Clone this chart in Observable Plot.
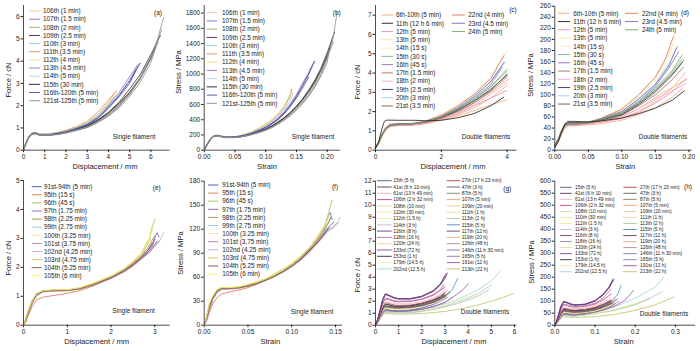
<!DOCTYPE html>
<html><head><meta charset="utf-8">
<script src="https://cdn.jsdelivr.net/npm/d3@7"></script>
<script src="https://cdn.jsdelivr.net/npm/@observablehq/plot@0.6"></script>
<style>
body{margin:0;background:#fff;}
#fig{position:relative;width:700px;height:351px;overflow:hidden;background:#fff;}
#fig svg{position:absolute;}
</style></head><body><div id="fig"></div>
<script>
const FONT = "'Liberation Sans', Arial, sans-serif";

// ---------- legends & colours ----------
const legendA = ["106th (1 min)","107th (1.5 min)","108th (2 min)","109th (2.5 min)","110th (3 min)","111th (3.5 min)","112th (4 min)","113th (4.5 min)","114th (5 min)","115th (30 min)","116th-120th (5 min)","121st-125th (5 min)"];
const colorsA = ["#f2c48d","#6f78c8","#9fa65e","#4a2040","#8ccac8","#d98a55","#ede07a","#9a6fb5","#a8d4ea","#1a1a1a","#4b4c9a","#8c8c8c"];
const legendC = ["6th-10th (5 min)","11th (12 h 6 min)","12th (5 min)","13th (5 min)","14th (15 s)","15th (30 s)","16th (45 s)","17th (1.5 min)","18th (2 min)","19th (2.5 min)","20th (3 min)","21st (3.5 min)","22nd (4 min)","23rd (4.5 min)","24th (5 min)"];
const colorsC = ["#f4a77a","#1a1a1a","#e58ab8","#f3e39a","#f6efb8","#6cb89a","#8e6ab8","#a27452","#f2a6c6","#2e2e5e","#9ccdf0","#6b5a4a","#e2704e","#6f6fc4","#78a85a"];
const legendE = ["91st-94th (5 min)","95th (15 s)","96th (45 s)","97th (1.75 min)","98th (2.25 min)","99th (2.75 min)","100th (3.25 min)","101st (3.75 min)","102nd (4.25 min)","103rd (4.75 min)","104th (5.25 min)","105th (6 min)"];
const colorsE = ["#3f4fa0","#e0704a","#a8c040","#8a5cc0","#a08c4a","#92c2e6","#efe0a0","#b07c9c","#c4a6d8","#e0bd5c","#6e4e3e","#efef5a"];
const legendG = ["15th (5 h)","41st (6 h 10 min)","61st (13 h 49 min)","106th (2 h 32 min)","108th (10 min)","110th (30 min)","112th (1.5 h)","114th (3 h)","116th (8 h)","118th (16 h)","120th (24 h)","133rd (72 h)","153rd (1 h)","179th (14.5 h)","202nd (12.5 h)",
  "27th (17 h 23 min)","47th (3 h)","87th (5 h)","107th (5 min)","109th (20 min)","111th (1 h)","113th (2 h)","115th (5 h)","117th (12 h)","119th (20 h)","126th (48 h)","146th (11 h 30 min)","165th (5 h)","191st (12 h)","213th (22 h)"];
const colorsG = ["#4a5a78","#5a2e5e","#f0b0c0","#c83c78","#e8d0a8","#f0e8a0","#f4e890","#c8b8e0","#6a3a8a","#b070b0","#e8d890","#7a4aa0","#2a2a4a","#f0f0a0","#a0d8d0",
  "#c04040","#606060","#808060","#f0a080","#e8c890","#f0d0a0","#a0d0a0","#5090c0","#604060","#e0b080","#c08090","#9070b0","#8080a0","#a050a0","#c0c060"];

// ---------- ticks ----------
const ticksAx=[0,1,2,3,4,5,6], ticksAy=[0,1,2,3,4,5,6];
const ticksBx=[0,0.05,0.1,0.15,0.2], ticksBy=[0,200,400,600,800,1000,1200,1400,1600,1800];
const ticksCx=[0,2,4], ticksCy=[0,1,2,3,4,5,6,7];
const ticksDx=[0,0.05,0.1,0.15,0.2], ticksDy=[0,20,40,60,80,100,120,140,160,180,200,220,240,260];
const ticksEx=[0,1,2,3], ticksEy=[0,1,2,3,4,5];
const ticksFx=[0,0.05,0.1,0.15], ticksFy=[0,30,60,90,120,150,180];
const ticksGx=[0,1,2,3,4,5,6], ticksGy=[0,1,2,3,4,5,6,7,8,9,10,11,12];
const ticksHx=[0,0.1,0.2,0.3], ticksHy=[0,50,100,150,200,250,300,350,400,450,500,550,600];

// ---------- curves: [legend index, [x,y, x,y, ...]] ----------
const curvesA = [
 [0,[0,0, 0.1,0.3, 0.25,0.63, 0.4,0.77, 0.55,0.8, 0.75,0.72, 1.2,0.72, 1.6,0.78, 2,0.88, 2.5,1.03, 3,1.25, 3.5,1.6, 4,2.15, 4.4,2.7]],
 [1,[0,0, 0.1,0.28, 0.25,0.6, 0.4,0.75, 0.55,0.78, 0.75,0.7, 1.2,0.7, 1.6,0.76, 2,0.84, 2.5,0.98, 3,1.16, 3.5,1.45, 4,1.95, 4.5,2.5, 5,3.15, 5.45,3.9]],
 [2,[0,0, 0.1,0.27, 0.25,0.6, 0.4,0.74, 0.55,0.77, 0.75,0.7, 1.2,0.69, 1.6,0.73, 2,0.8, 2.5,0.93, 3,1.08, 3.5,1.33, 4,1.65, 4.5,2.05, 5,2.6, 5.5,3.25, 6,4.1, 6.35,4.85]],
 [3,[0,0, 0.1,0.26, 0.25,0.58, 0.4,0.73, 0.55,0.76, 0.75,0.69, 1.2,0.68, 1.6,0.72, 2,0.8, 2.5,0.94, 3,1.1, 3.5,1.36, 4,1.7, 4.5,2.15, 5,2.75, 5.5,3.4, 6,4.3, 6.45,5.15]],
 [4,[0,0, 0.1,0.3, 0.25,0.62, 0.4,0.76, 0.55,0.79, 0.75,0.71, 1.2,0.71, 1.6,0.78, 2,0.86, 2.5,1.02, 3,1.22, 3.5,1.55, 4,2.05, 4.25,2.4]],
 [5,[0,0, 0.1,0.32, 0.25,0.64, 0.4,0.78, 0.55,0.8, 0.75,0.73, 1.2,0.73, 1.6,0.8, 2,0.9, 2.5,1.07, 3,1.3, 3.5,1.7, 4,2.25, 4.35,2.65]],
 [6,[0,0, 0.1,0.3, 0.25,0.62, 0.4,0.77, 0.55,0.79, 0.75,0.72, 1.2,0.72, 1.6,0.79, 2,0.87, 2.5,1.04, 3,1.27, 3.5,1.6, 4,2.1, 4.3,2.5]],
 [7,[0,0, 0.1,0.28, 0.25,0.6, 0.4,0.75, 0.55,0.78, 0.75,0.71, 1.2,0.71, 1.6,0.77, 2,0.85, 2.5,1.0, 3,1.2, 3.5,1.5, 4,2.0, 4.5,2.6, 5,3.3, 5.35,3.8]],
 [8,[0,0, 0.1,0.29, 0.25,0.61, 0.4,0.76, 0.55,0.78, 0.75,0.71, 1.2,0.71, 1.6,0.77, 2,0.85, 2.5,1.0, 3,1.2, 3.5,1.5, 4,1.95, 4.45,2.45]],
 [9,[0,0, 0.1,0.25, 0.25,0.57, 0.4,0.72, 0.55,0.75, 0.75,0.68, 1.2,0.68, 1.6,0.72, 2,0.8, 2.5,0.93, 3,1.08, 3.5,1.33, 4,1.68, 4.5,2.1, 5,2.6, 5.5,3.25, 6,4.15, 6.2,4.6]],
 [10,[0,0, 0.1,0.28, 0.25,0.6, 0.4,0.75, 0.55,0.78, 0.75,0.7, 1.2,0.7, 1.6,0.76, 2,0.83, 2.5,0.98, 3,1.15, 3.5,1.45, 4,1.92, 4.5,2.45, 5,3.1, 5.5,3.9]],
 [10,[0,0, 0.1,0.27, 0.25,0.59, 0.4,0.74, 0.55,0.77, 0.75,0.7, 1.2,0.7, 1.6,0.75, 2,0.82, 2.5,0.96, 3,1.13, 3.5,1.42, 4,1.88, 4.5,2.4, 5,3.0, 5.3,3.6]],
 [11,[0,0, 0.1,0.25, 0.25,0.58, 0.4,0.72, 0.55,0.75, 0.75,0.68, 1.2,0.68, 1.6,0.71, 2,0.78, 2.5,0.9, 3,1.03, 3.5,1.27, 4,1.56, 4.5,1.96, 5,2.5, 5.5,3.2, 6,4.2, 6.3,4.95, 6.6,5.95]],
 [11,[0,0, 0.1,0.26, 0.25,0.59, 0.4,0.73, 0.55,0.76, 0.75,0.69, 1.2,0.69, 1.6,0.72, 2,0.79, 2.5,0.91, 3,1.05, 3.5,1.3, 4,1.6, 4.5,2.0, 5,2.55, 5.5,3.2, 6,4.1, 6.5,5.4]],
 [11,[0,0, 0.1,0.24, 0.25,0.56, 0.4,0.71, 0.55,0.74, 0.75,0.67, 1.2,0.67, 1.6,0.7, 2,0.77, 2.5,0.88, 3,1.01, 3.5,1.24, 4,1.52, 4.5,1.9, 5,2.42, 5.5,3.05, 6,3.95, 6.3,4.85]],
 [11,[0,0, 0.1,0.26, 0.25,0.58, 0.4,0.72, 0.55,0.75, 0.75,0.68, 1.2,0.68, 1.6,0.71, 2,0.78, 2.5,0.9, 3,1.04, 3.5,1.28, 4,1.58, 4.5,2.0, 5,2.55, 5.5,3.25, 6,4.2, 6.15,4.6]]
];
const curvesB = [
 [0,[0,0, 0.004,72, 0.01,152, 0.015,186, 0.02,197, 0.025,189, 0.035,174, 0.05,177, 0.06,193, 0.07,215, 0.08,245, 0.09,285, 0.1,330, 0.11,390, 0.12,460, 0.13,560, 0.14,700, 0.143,790]],
 [1,[0,0, 0.004,66, 0.01,146, 0.015,181, 0.02,193, 0.025,186, 0.035,171, 0.05,173, 0.06,186, 0.07,205, 0.08,232, 0.09,265, 0.1,302, 0.11,350, 0.12,410, 0.13,490, 0.14,590, 0.15,710, 0.16,850, 0.17,1000, 0.178,1160]],
 [2,[0,0, 0.004,60, 0.01,140, 0.015,178, 0.02,190, 0.025,183, 0.035,168, 0.05,168, 0.06,178, 0.07,195, 0.08,218, 0.09,243, 0.1,272, 0.11,310, 0.12,360, 0.13,415, 0.14,480, 0.15,560, 0.16,650, 0.17,760, 0.18,890, 0.19,1040, 0.2,1230, 0.208,1440]],
 [3,[0,0, 0.004,62, 0.01,142, 0.015,179, 0.02,191, 0.025,184, 0.035,169, 0.05,170, 0.06,181, 0.07,198, 0.08,222, 0.09,249, 0.1,280, 0.11,320, 0.12,370, 0.13,428, 0.14,495, 0.15,580, 0.16,675, 0.17,790, 0.18,920, 0.19,1080, 0.2,1280, 0.212,1550]],
 [4,[0,0, 0.004,70, 0.01,150, 0.015,185, 0.02,196, 0.025,188, 0.035,173, 0.05,176, 0.06,191, 0.07,211, 0.08,240, 0.09,278, 0.1,322, 0.11,378, 0.12,445, 0.13,535, 0.138,700]],
 [5,[0,0, 0.004,74, 0.01,154, 0.015,188, 0.02,198, 0.025,190, 0.035,175, 0.05,179, 0.06,196, 0.07,220, 0.08,252, 0.09,293, 0.1,340, 0.11,400, 0.12,475, 0.13,575, 0.14,720, 0.142,800]],
 [6,[0,0, 0.004,71, 0.01,151, 0.015,186, 0.02,197, 0.025,189, 0.035,174, 0.05,178, 0.06,194, 0.07,216, 0.08,248, 0.09,288, 0.1,335, 0.11,395, 0.12,468, 0.13,565, 0.14,740]],
 [7,[0,0, 0.004,67, 0.01,147, 0.015,182, 0.02,194, 0.025,187, 0.035,172, 0.05,174, 0.06,188, 0.07,207, 0.08,235, 0.09,268, 0.1,305, 0.11,358, 0.12,420, 0.13,505, 0.14,610, 0.15,730, 0.16,880, 0.17,1020, 0.175,1110]],
 [8,[0,0, 0.004,69, 0.01,149, 0.015,184, 0.02,195, 0.025,188, 0.035,173, 0.05,175, 0.06,190, 0.07,210, 0.08,238, 0.09,274, 0.1,315, 0.11,372, 0.12,440, 0.13,530, 0.14,650, 0.145,760]],
 [9,[0,0, 0.004,61, 0.01,141, 0.015,178, 0.02,190, 0.025,183, 0.035,168, 0.05,169, 0.06,179, 0.07,196, 0.08,219, 0.09,245, 0.1,275, 0.11,315, 0.12,365, 0.13,425, 0.14,490, 0.15,570, 0.16,665, 0.17,775, 0.18,900, 0.19,1050, 0.2,1240, 0.205,1350]],
 [10,[0,0, 0.004,65, 0.01,145, 0.015,181, 0.02,193, 0.025,186, 0.035,171, 0.05,173, 0.06,186, 0.07,204, 0.08,230, 0.09,263, 0.1,300, 0.11,348, 0.12,408, 0.13,488, 0.14,585, 0.15,705, 0.16,850, 0.17,1000, 0.18,1170]],
 [10,[0,0, 0.004,64, 0.01,144, 0.015,180, 0.02,192, 0.025,185, 0.035,170, 0.05,172, 0.06,185, 0.07,203, 0.08,228, 0.09,260, 0.1,297, 0.11,343, 0.12,400, 0.13,475, 0.14,570, 0.15,685, 0.16,815, 0.17,960]],
 [11,[0,0, 0.004,58, 0.01,138, 0.015,176, 0.02,188, 0.025,181, 0.035,166, 0.05,166, 0.06,175, 0.07,190, 0.08,211, 0.09,235, 0.1,262, 0.11,298, 0.12,345, 0.13,398, 0.14,460, 0.15,535, 0.16,620, 0.17,720, 0.18,840, 0.19,990, 0.2,1200, 0.21,1480, 0.216,1810]],
 [11,[0,0, 0.004,59, 0.01,139, 0.015,177, 0.02,189, 0.025,182, 0.035,167, 0.05,167, 0.06,177, 0.07,193, 0.08,215, 0.09,240, 0.1,268, 0.11,305, 0.12,352, 0.13,406, 0.14,470, 0.15,548, 0.16,638, 0.17,745, 0.18,870, 0.19,1030, 0.2,1220, 0.21,1420]],
 [11,[0,0, 0.004,57, 0.01,137, 0.015,175, 0.02,187, 0.025,180, 0.035,165, 0.05,165, 0.06,174, 0.07,189, 0.08,210, 0.09,233, 0.1,260, 0.11,295, 0.12,340, 0.13,392, 0.14,452, 0.15,525, 0.16,610, 0.17,710, 0.18,830, 0.19,975, 0.2,1150, 0.203,1300]]
];
const curvesC = [
 [0,[0,0.12, 0.1,0.4, 0.2,0.8, 0.3,1.1, 0.4,1.28, 0.6,1.33, 1,1.33, 1.4,1.38, 1.7,1.48, 2,1.6, 2.5,1.85, 3,2.2, 3.5,2.7, 4,3.35]],
 [0,[0,0.1, 0.1,0.35, 0.2,0.72, 0.3,1.0, 0.45,1.22, 0.6,1.27, 1,1.28, 1.4,1.33, 1.7,1.42, 2,1.55, 2.5,1.78, 3,2.05, 3.5,2.35, 4,2.62]],
 [0,[0,0.15, 0.1,0.42, 0.2,0.82, 0.3,1.12, 0.4,1.3, 0.6,1.36, 1,1.36, 1.4,1.4, 1.7,1.5, 2,1.65, 2.5,2.0, 3,2.45, 3.5,3.0, 4.05,3.7]],
 [2,[0,0.1, 0.1,0.38, 0.2,0.78, 0.3,1.05, 0.45,1.25, 0.7,1.28, 1.1,1.3, 1.5,1.4, 2,1.6, 2.5,1.9, 3,2.3, 3.5,2.7, 4,3.1]],
 [3,[0,0.2, 0.1,0.45, 0.2,0.85, 0.3,1.15, 0.4,1.32, 0.7,1.38, 1.1,1.4, 1.5,1.5, 2,1.85, 2.5,2.3, 3,2.9, 3.5,3.8, 4,5.15]],
 [4,[0,0.15, 0.1,0.4, 0.2,0.8, 0.3,1.1, 0.45,1.3, 0.7,1.36, 1.1,1.38, 1.5,1.48, 2,1.8, 2.5,2.25, 3,2.8, 3.5,3.5, 3.95,4.6]],
 [5,[0,0.1, 0.1,0.38, 0.2,0.78, 0.3,1.08, 0.45,1.28, 0.7,1.32, 1.1,1.35, 1.5,1.45, 2,1.7, 2.5,2.1, 3,2.6, 3.5,3.25, 4,4.1]],
 [6,[0,0.12, 0.1,0.4, 0.2,0.8, 0.3,1.1, 0.45,1.3, 0.7,1.35, 1.1,1.37, 1.5,1.47, 2,1.75, 2.5,2.15, 3,2.7, 3.5,3.4, 3.85,4.3]],
 [7,[0,0.1, 0.1,0.36, 0.2,0.75, 0.3,1.05, 0.45,1.26, 0.7,1.3, 1.1,1.32, 1.5,1.42, 2,1.65, 2.5,2.0, 3,2.45, 3.5,3.05, 4,3.8]],
 [8,[0,0.12, 0.1,0.38, 0.2,0.76, 0.3,1.04, 0.45,1.24, 0.7,1.28, 1.1,1.3, 1.5,1.4, 2,1.6, 2.5,1.95, 3,2.35, 3.5,2.9, 4,3.5]],
 [9,[0,0.15, 0.1,0.42, 0.2,0.82, 0.3,1.1, 0.45,1.3, 0.7,1.34, 1.1,1.36, 1.5,1.45, 2,1.7, 2.5,2.05, 3,2.55, 3.5,3.15, 4,3.9]],
 [10,[0,0.1, 0.1,0.4, 0.2,0.8, 0.3,1.1, 0.45,1.3, 0.7,1.35, 1.1,1.37, 1.5,1.47, 2,1.75, 2.5,2.2, 3,2.75, 3.5,3.55, 3.95,4.6]],
 [11,[0,0.12, 0.1,0.42, 0.2,0.84, 0.3,1.14, 0.45,1.34, 0.7,1.38, 1.1,1.38, 1.5,1.46, 2,1.7, 2.5,2.1, 3,2.55, 3.5,3.1, 4,3.95]],
 [12,[0,0.1, 0.1,0.38, 0.2,0.8, 0.3,1.1, 0.45,1.3, 0.7,1.34, 1.1,1.37, 1.5,1.5, 2,1.8, 2.5,2.3, 3,2.9, 3.5,3.7, 3.9,4.9]],
 [13,[0,0.12, 0.1,0.4, 0.2,0.8, 0.3,1.1, 0.45,1.3, 0.7,1.34, 1.1,1.36, 1.5,1.47, 2,1.75, 2.5,2.2, 3,2.8, 3.5,3.55, 3.9,4.55]],
 [14,[0,0.1, 0.1,0.38, 0.2,0.78, 0.3,1.08, 0.45,1.28, 0.7,1.32, 1.1,1.35, 1.5,1.45, 2,1.72, 2.5,2.15, 3,2.65, 3.5,3.3, 4,4.2]],
 [1,[0,0.1, 0.1,0.45, 0.2,1.15, 0.27,1.5, 0.35,1.56, 0.7,1.55, 1.2,1.55, 1.6,1.52, 2,1.55, 2.5,1.68, 3,1.9, 3.5,2.3, 3.9,2.75]]
];
const curvesD = [
 [0,[0,6, 0.005,16, 0.01,30, 0.015,42, 0.02,46, 0.03,46, 0.05,48, 0.07,51, 0.1,58, 0.125,70, 0.15,88, 0.175,112, 0.195,140]],
 [0,[0,5, 0.005,14, 0.01,28, 0.015,40, 0.02,44, 0.03,44, 0.05,46, 0.07,48, 0.1,54, 0.125,64, 0.15,76, 0.175,95, 0.19,112]],
 [0,[0,8, 0.005,18, 0.01,32, 0.015,44, 0.02,47, 0.03,47, 0.05,49, 0.07,53, 0.1,61, 0.125,75, 0.15,95, 0.175,113, 0.197,128]],
 [2,[0,6, 0.005,17, 0.01,31, 0.015,43, 0.02,46, 0.03,46, 0.05,48, 0.07,51, 0.1,57, 0.125,68, 0.15,85, 0.175,105, 0.196,130]],
 [3,[0,10, 0.005,20, 0.01,35, 0.015,46, 0.02,49, 0.03,49, 0.05,51, 0.07,58, 0.1,75, 0.125,98, 0.15,130, 0.165,160, 0.178,195]],
 [4,[0,8, 0.005,18, 0.01,33, 0.015,45, 0.02,48, 0.03,48, 0.05,50, 0.07,57, 0.1,72, 0.125,95, 0.15,125, 0.17,158, 0.183,190]],
 [5,[0,7, 0.005,17, 0.01,32, 0.015,44, 0.02,47, 0.03,47, 0.05,49, 0.07,55, 0.1,66, 0.125,85, 0.15,110, 0.175,140, 0.19,165]],
 [6,[0,8, 0.005,18, 0.01,33, 0.015,45, 0.02,48, 0.03,48, 0.05,50, 0.07,56, 0.1,68, 0.125,88, 0.15,115, 0.17,148, 0.185,178]],
 [7,[0,7, 0.005,17, 0.01,31, 0.015,43, 0.02,46, 0.03,46, 0.05,48, 0.07,53, 0.1,63, 0.125,80, 0.15,100, 0.175,127, 0.192,150]],
 [8,[0,6, 0.005,16, 0.01,30, 0.015,42, 0.02,45, 0.03,45, 0.05,47, 0.07,52, 0.1,60, 0.125,75, 0.15,92, 0.175,107, 0.195,120]],
 [9,[0,9, 0.005,19, 0.01,34, 0.015,46, 0.02,49, 0.03,49, 0.05,50, 0.07,55, 0.1,64, 0.125,82, 0.15,105, 0.175,135, 0.19,158]],
 [10,[0,8, 0.005,18, 0.01,33, 0.015,45, 0.02,48, 0.03,48, 0.05,50, 0.07,57, 0.1,70, 0.125,93, 0.15,120, 0.17,155, 0.183,187]],
 [11,[0,10, 0.005,20, 0.01,36, 0.015,47, 0.02,50, 0.03,50, 0.05,51, 0.07,56, 0.1,65, 0.125,84, 0.15,108, 0.175,137, 0.192,162]],
 [12,[0,7, 0.005,17, 0.01,32, 0.015,44, 0.02,47, 0.03,47, 0.05,50, 0.07,58, 0.1,74, 0.125,100, 0.15,132, 0.165,165, 0.177,205]],
 [13,[0,8, 0.005,18, 0.01,33, 0.015,45, 0.02,48, 0.03,48, 0.05,50, 0.07,57, 0.1,70, 0.125,92, 0.15,118, 0.17,152, 0.182,185]],
 [14,[0,7, 0.005,17, 0.01,32, 0.015,44, 0.02,47, 0.03,47, 0.05,49, 0.07,56, 0.1,67, 0.125,87, 0.15,112, 0.175,143, 0.19,172]],
 [1,[0,5, 0.005,15, 0.01,32, 0.015,47, 0.019,52, 0.03,52, 0.05,51, 0.07,53, 0.1,58, 0.125,66, 0.15,76, 0.175,90, 0.193,107]]
];
const curvesE = [
 [0,[0,0, 0.05,0.15, 0.1,0.4, 0.2,0.8, 0.3,1.05, 0.45,1.17, 0.7,1.2, 1,1.2, 1.3,1.28, 1.6,1.42, 2,1.66, 2.3,1.9, 2.5,2.12, 2.7,2.35, 2.85,2.6, 2.95,2.75, 3.0,3.0]],
 [0,[0,0, 0.05,0.2, 0.1,0.45, 0.2,0.85, 0.3,1.08, 0.45,1.18, 0.7,1.2, 1,1.21, 1.3,1.27, 1.6,1.4, 2,1.62, 2.3,1.85, 2.5,2.05, 2.7,2.3, 2.9,2.55, 3.05,2.9]],
 [1,[0,0, 0.05,0.1, 0.1,0.3, 0.2,0.65, 0.3,0.88, 0.45,0.97, 0.7,1.03, 1,1.1, 1.3,1.2, 1.6,1.36, 2,1.62, 2.3,1.85, 2.5,2.05, 2.7,2.3, 2.9,2.62, 3.0,2.95]],
 [2,[0,0, 0.05,0.2, 0.1,0.45, 0.2,0.85, 0.3,1.1, 0.45,1.2, 0.7,1.22, 1,1.22, 1.3,1.3, 1.6,1.45, 2,1.7, 2.3,1.95, 2.5,2.2, 2.7,2.5, 2.8,2.8, 2.88,3.0, 2.93,3.35, 3.0,3.65]],
 [3,[0,0, 0.05,0.18, 0.1,0.42, 0.2,0.82, 0.3,1.06, 0.45,1.17, 0.7,1.19, 1,1.2, 1.3,1.27, 1.6,1.41, 2,1.65, 2.3,1.9, 2.5,2.1, 2.7,2.38, 2.85,2.62, 2.95,2.85, 3.05,3.2, 3.1,3.05]],
 [4,[0,0, 0.05,0.2, 0.1,0.45, 0.2,0.84, 0.3,1.08, 0.45,1.18, 0.7,1.21, 1,1.21, 1.3,1.28, 1.6,1.43, 2,1.68, 2.3,1.92, 2.5,2.15, 2.7,2.42, 2.85,2.7, 3.0,3.1]],
 [5,[0,0, 0.05,0.15, 0.1,0.38, 0.2,0.78, 0.3,1.04, 0.45,1.16, 0.7,1.19, 1,1.19, 1.3,1.26, 1.6,1.4, 2,1.64, 2.3,1.88, 2.5,2.1, 2.7,2.35, 2.9,2.7, 3.0,2.95]],
 [6,[0,0, 0.05,0.2, 0.1,0.44, 0.2,0.84, 0.3,1.08, 0.45,1.18, 0.7,1.21, 1,1.22, 1.3,1.29, 1.6,1.44, 2,1.69, 2.3,1.95, 2.5,2.18, 2.7,2.48, 2.85,2.85, 2.95,3.3]],
 [7,[0,0, 0.05,0.14, 0.1,0.36, 0.2,0.76, 0.3,1.02, 0.45,1.15, 0.7,1.18, 1,1.19, 1.3,1.25, 1.6,1.39, 2,1.62, 2.3,1.86, 2.5,2.08, 2.7,2.32, 2.9,2.6, 3.05,2.8, 3.1,2.92]],
 [8,[0,0, 0.05,0.16, 0.1,0.4, 0.2,0.8, 0.3,1.05, 0.45,1.16, 0.7,1.19, 1,1.2, 1.3,1.26, 1.6,1.4, 2,1.63, 2.3,1.87, 2.5,2.1, 2.7,2.35, 2.9,2.65, 3.05,2.85, 3.12,2.92, 3.2,3.2]],
 [9,[0,0, 0.05,0.19, 0.1,0.43, 0.2,0.83, 0.3,1.07, 0.45,1.18, 0.7,1.21, 1,1.21, 1.3,1.28, 1.6,1.43, 2,1.67, 2.3,1.92, 2.5,2.15, 2.7,2.42, 2.9,3.0]],
 [10,[0,0, 0.05,0.17, 0.1,0.41, 0.2,0.81, 0.3,1.06, 0.45,1.17, 0.7,1.2, 1,1.2, 1.3,1.27, 1.6,1.41, 2,1.64, 2.3,1.88, 2.5,2.1, 2.7,2.35, 2.85,2.6, 2.95,2.85]],
 [11,[0,0, 0.05,0.2, 0.1,0.45, 0.2,0.85, 0.3,1.09, 0.45,1.19, 0.7,1.22, 1,1.22, 1.3,1.3, 1.6,1.45, 2,1.7, 2.3,1.96, 2.5,2.2, 2.7,2.5, 2.85,2.9, 2.95,3.35]]
];
const curvesF = [
 [0,[0,0, 0.003,10, 0.006,24, 0.01,35, 0.015,43, 0.02,46, 0.03,46, 0.04,47, 0.05,50, 0.06,53, 0.07,57, 0.08,62, 0.09,68, 0.1,75, 0.11,84, 0.12,95, 0.13,108, 0.138,120, 0.145,135]],
 [0,[0,0, 0.003,12, 0.006,26, 0.01,36, 0.015,44, 0.02,46, 0.03,46, 0.04,47, 0.05,49, 0.06,52, 0.07,56, 0.08,61, 0.09,67, 0.1,74, 0.11,82, 0.12,92, 0.13,105, 0.14,120, 0.148,129]],
 [1,[0,0, 0.003,6, 0.006,16, 0.01,27, 0.015,35, 0.02,39, 0.03,42, 0.04,44, 0.05,47, 0.06,51, 0.07,56, 0.08,61, 0.09,67, 0.1,74, 0.11,83, 0.12,93, 0.13,105, 0.14,118]],
 [2,[0,0, 0.003,11, 0.006,25, 0.01,36, 0.015,44, 0.02,47, 0.03,47, 0.04,48, 0.05,51, 0.06,54, 0.07,58, 0.08,64, 0.09,70, 0.1,77, 0.11,86, 0.12,97, 0.13,112, 0.138,125, 0.142,140, 0.146,156]],
 [3,[0,0, 0.003,9, 0.006,22, 0.01,34, 0.015,43, 0.02,46, 0.03,46, 0.04,47, 0.05,50, 0.06,53, 0.07,57, 0.08,62, 0.09,68, 0.1,75, 0.11,84, 0.12,95, 0.13,108, 0.137,122, 0.141,133, 0.144,141, 0.146,132]],
 [4,[0,0, 0.003,10, 0.006,24, 0.01,35, 0.015,44, 0.02,46, 0.03,46, 0.04,47, 0.05,50, 0.06,53, 0.07,57, 0.08,62, 0.09,68, 0.1,75, 0.11,84, 0.12,94, 0.13,106, 0.14,125, 0.143,130]],
 [5,[0,0, 0.003,8, 0.006,20, 0.01,33, 0.015,42, 0.02,45, 0.03,46, 0.04,47, 0.05,49, 0.06,52, 0.07,56, 0.08,61, 0.09,67, 0.1,74, 0.11,82, 0.12,92, 0.13,104, 0.14,118, 0.145,126]],
 [6,[0,0, 0.003,12, 0.006,26, 0.01,37, 0.015,45, 0.02,47, 0.03,47, 0.04,48, 0.05,51, 0.06,54, 0.07,58, 0.08,63, 0.09,69, 0.1,77, 0.11,86, 0.12,97, 0.13,110, 0.138,125, 0.143,138]],
 [7,[0,0, 0.003,7, 0.006,19, 0.01,32, 0.015,41, 0.02,45, 0.03,45, 0.04,46, 0.05,49, 0.06,52, 0.07,56, 0.08,61, 0.09,66, 0.1,73, 0.11,81, 0.12,91, 0.13,103, 0.14,116, 0.148,124, 0.152,128]],
 [8,[0,0, 0.003,9, 0.006,22, 0.01,34, 0.015,43, 0.02,46, 0.03,46, 0.04,47, 0.05,49, 0.06,52, 0.07,56, 0.08,61, 0.09,67, 0.1,74, 0.11,82, 0.12,92, 0.13,104, 0.14,117, 0.148,122, 0.152,126, 0.155,135]],
 [9,[0,0, 0.003,11, 0.006,25, 0.01,36, 0.015,44, 0.02,46, 0.03,46, 0.04,47, 0.05,50, 0.06,53, 0.07,57, 0.08,62, 0.09,68, 0.1,75, 0.11,84, 0.12,95, 0.13,107, 0.14,125, 0.142,128]],
 [10,[0,0, 0.003,10, 0.006,23, 0.01,35, 0.015,43, 0.02,46, 0.03,46, 0.04,47, 0.05,49, 0.06,52, 0.07,56, 0.08,61, 0.09,67, 0.1,74, 0.11,82, 0.12,93, 0.13,104, 0.14,118, 0.143,122]],
 [11,[0,0, 0.003,12, 0.006,27, 0.01,37, 0.015,45, 0.02,47, 0.03,47, 0.04,48, 0.05,51, 0.06,54, 0.07,58, 0.08,63, 0.09,70, 0.1,77, 0.11,86, 0.12,97, 0.13,110, 0.14,130, 0.143,137]]
];
const curvesG = [
 [29,[0,0, 0.1,0.2, 0.2,0.52, 0.3,0.82, 0.42,0.98, 0.55,0.97, 0.8,0.93, 1,0.92, 1.5,0.93, 2,0.98, 2.5,1.05, 3,1.15, 3.5,1.3, 4,1.5, 4.5,1.72, 5,2.0, 5.5,2.3, 5.95,2.65]],
 [14,[0,0, 0.1,0.26, 0.2,0.65, 0.3,1.02, 0.42,1.25, 0.55,1.23, 0.8,1.17, 1,1.15, 1.5,1.2, 2,1.33, 2.5,1.52, 3,1.78, 3.5,2.12, 4,2.55, 4.5,3.05, 5,3.7, 5.4,4.5]],
 [7,[0,0, 0.1,0.24, 0.2,0.6, 0.3,0.95, 0.42,1.13, 0.55,1.12, 0.8,1.07, 1,1.05, 1.5,1.08, 2,1.2, 2.5,1.38, 3,1.6, 3.5,1.9, 4,2.25, 4.5,2.7, 5.0,3.35]],
 [21,[0,0, 0.1,0.22, 0.2,0.58, 0.3,0.9, 0.42,1.08, 0.55,1.07, 0.8,1.02, 1,1.0, 1.5,1.03, 2,1.14, 2.5,1.3, 3,1.52, 3.5,1.78, 4,2.1, 4.5,2.5, 4.9,2.95]],
 [13,[0,0, 0.1,0.25, 0.2,0.62, 0.3,0.98, 0.42,1.18, 0.55,1.17, 0.8,1.12, 1,1.1, 1.5,1.14, 2,1.26, 2.5,1.45, 3,1.7, 3.5,2.0, 4,2.35, 4.4,2.7]],
 [28,[0,0, 0.1,0.26, 0.2,0.65, 0.3,1.02, 0.42,1.25, 0.55,1.23, 0.8,1.17, 1,1.15, 1.5,1.2, 2,1.33, 2.5,1.55, 3,1.9, 3.5,2.55, 3.8,3.0, 4.0,3.45]],
 [22,[0,0, 0.1,0.28, 0.2,0.7, 0.3,1.08, 0.42,1.3, 0.55,1.28, 0.8,1.22, 1,1.2, 1.5,1.27, 2,1.45, 2.5,1.75, 3,2.3, 3.3,2.9, 3.55,3.9]],
 [26,[0,0, 0.1,0.26, 0.2,0.66, 0.3,1.0, 0.42,1.2, 0.55,1.19, 0.8,1.14, 1,1.13, 1.5,1.18, 2,1.32, 2.5,1.55, 3,1.9, 3.3,2.3]],
 [27,[0,0, 0.1,0.28, 0.2,0.7, 0.3,1.08, 0.42,1.3, 0.55,1.28, 0.8,1.22, 1,1.2, 1.5,1.26, 2,1.42, 2.5,1.7, 2.8,1.98, 3.1,2.3]],
 [4,[0,0, 0.1,0.3, 0.2,0.78, 0.3,1.2, 0.42,1.45, 0.55,1.44, 0.8,1.37, 1,1.36, 1.5,1.42, 2,1.6, 2.5,1.9, 2.8,2.15, 3.05,2.4]],
 [5,[0,0, 0.1,0.3, 0.2,0.75, 0.3,1.15, 0.42,1.4, 0.55,1.39, 0.8,1.33, 1,1.32, 1.5,1.38, 2,1.55, 2.5,1.82, 2.8,2.05, 3.0,2.3]],
 [6,[0,0, 0.1,0.32, 0.2,0.8, 0.3,1.25, 0.42,1.5, 0.55,1.49, 0.8,1.42, 1,1.41, 1.5,1.47, 2,1.65, 2.5,1.95, 2.8,2.25, 3.1,2.6]],
 [10,[0,0, 0.1,0.3, 0.2,0.78, 0.3,1.2, 0.42,1.45, 0.55,1.44, 0.8,1.38, 1,1.37, 1.5,1.43, 2,1.6, 2.5,1.9, 2.8,2.2, 3.0,2.5]],
 [18,[0,0, 0.1,0.34, 0.2,0.84, 0.3,1.3, 0.42,1.55, 0.55,1.53, 0.8,1.45, 1,1.44, 1.5,1.49, 2,1.66, 2.5,1.95, 2.8,2.25, 3.0,2.55]],
 [19,[0,0, 0.1,0.32, 0.2,0.8, 0.3,1.25, 0.42,1.5, 0.55,1.48, 0.8,1.41, 1,1.4, 1.5,1.45, 2,1.62, 2.5,1.9, 2.8,2.18, 3.05,2.45]],
 [20,[0,0, 0.1,0.3, 0.2,0.76, 0.3,1.2, 0.42,1.45, 0.55,1.43, 0.8,1.36, 1,1.35, 1.5,1.4, 2,1.57, 2.5,1.85, 2.8,2.12, 2.95,2.4]],
 [24,[0,0, 0.1,0.32, 0.2,0.8, 0.3,1.25, 0.42,1.5, 0.55,1.49, 0.8,1.42, 1,1.41, 1.5,1.46, 2,1.63, 2.5,1.92, 2.8,2.2, 3.0,2.5]],
 [25,[0,0, 0.1,0.36, 0.2,0.86, 0.3,1.35, 0.42,1.6, 0.55,1.58, 0.8,1.5, 1,1.48, 1.5,1.53, 2,1.7, 2.5,2.0, 2.8,2.35, 3.1,2.9]],
 [23,[0,0, 0.1,0.34, 0.2,0.84, 0.3,1.3, 0.42,1.55, 0.55,1.53, 0.8,1.45, 1,1.44, 1.5,1.48, 2,1.63, 2.5,1.9, 2.8,2.2, 3.0,2.45, 3.2,2.8]],
 [17,[0,0, 0.1,0.32, 0.2,0.82, 0.3,1.28, 0.42,1.55, 0.55,1.54, 0.8,1.46, 1,1.45, 1.5,1.5, 2,1.65, 2.5,1.92, 2.8,2.15, 3.05,2.4]],
 [16,[0,0, 0.1,0.35, 0.2,0.85, 0.3,1.32, 0.42,1.6, 0.55,1.58, 0.8,1.5, 1,1.48, 1.5,1.52, 2,1.68, 2.5,1.95, 2.8,2.2, 3.0,2.45]],
 [0,[0,0, 0.1,0.35, 0.2,0.9, 0.3,1.4, 0.42,1.7, 0.55,1.68, 0.8,1.58, 1,1.55, 1.5,1.6, 2,1.78, 2.5,2.05, 2.8,2.3, 3.0,2.55]],
 [12,[0,0, 0.1,0.38, 0.2,0.92, 0.3,1.45, 0.42,1.75, 0.55,1.72, 0.8,1.6, 1,1.58, 1.5,1.62, 2,1.8, 2.5,2.1, 2.8,2.35, 2.95,2.6]],
 [15,[0,0, 0.1,0.4, 0.2,0.95, 0.3,1.5, 0.42,1.85, 0.55,1.82, 0.8,1.68, 1,1.65, 1.5,1.68, 2,1.85, 2.5,2.15, 2.8,2.45, 3.0,2.75]],
 [2,[0,0, 0.1,0.4, 0.2,1.0, 0.3,1.6, 0.42,1.95, 0.55,1.92, 0.8,1.8, 1,1.78, 1.5,1.8, 2,1.95, 2.5,2.25, 2.8,2.6, 3.0,2.95]],
 [3,[0,0, 0.1,0.45, 0.2,1.1, 0.3,1.75, 0.42,2.2, 0.55,2.15, 0.8,1.98, 1,1.95, 1.5,1.98, 2,2.15, 2.5,2.5, 2.8,2.9, 3.0,3.2]],
 [9,[0,0, 0.1,0.45, 0.2,1.1, 0.3,1.8, 0.42,2.25, 0.55,2.22, 0.8,2.05, 1,2.0, 1.5,2.02, 2,2.2, 2.5,2.55, 2.8,2.95, 2.95,3.4]],
 [11,[0,0, 0.1,0.5, 0.2,1.25, 0.3,2.05, 0.42,2.58, 0.55,2.5, 0.8,2.28, 1,2.2, 1.5,2.2, 2,2.4, 2.5,2.85, 2.8,3.4, 3.0,4.1]],
 [1,[0,0, 0.1,0.5, 0.2,1.2, 0.3,2.0, 0.42,2.55, 0.55,2.48, 0.8,2.25, 1,2.18, 1.5,2.18, 2,2.38, 2.5,2.82, 2.8,3.35, 3.0,3.9, 3.1,4.35]],
 [8,[0,0, 0.1,0.55, 0.2,1.3, 0.3,2.1, 0.42,2.62, 0.55,2.55, 0.8,2.3, 1,2.22, 1.5,2.22, 2,2.42, 2.5,2.9, 2.8,3.45, 3.05,4.3]]
];
const curvesH = [
 [29,[0,0, 0.005,7, 0.01,17, 0.015,28, 0.022,36, 0.03,35, 0.04,33, 0.05,33, 0.075,34, 0.1,36, 0.15,45, 0.2,62, 0.25,85, 0.296,117]],
 [14,[0,0, 0.005,9, 0.01,22, 0.015,36, 0.022,45, 0.03,44, 0.04,42, 0.05,42, 0.075,47, 0.1,55, 0.15,78, 0.2,112, 0.25,160, 0.271,200]],
 [7,[0,0, 0.005,8, 0.01,20, 0.015,33, 0.022,42, 0.03,41, 0.04,40, 0.05,40, 0.075,44, 0.1,50, 0.15,65, 0.2,88, 0.24,115, 0.267,140]],
 [21,[0,0, 0.005,8, 0.01,19, 0.015,32, 0.022,40, 0.03,39, 0.04,38, 0.05,38, 0.075,42, 0.1,47, 0.15,62, 0.2,85, 0.235,110]],
 [13,[0,0, 0.005,8, 0.01,20, 0.015,33, 0.022,42, 0.03,41, 0.04,40, 0.05,40, 0.075,44, 0.1,50, 0.15,66, 0.2,90, 0.22,102]],
 [28,[0,0, 0.005,9, 0.01,22, 0.015,36, 0.022,45, 0.03,44, 0.04,43, 0.05,42, 0.075,47, 0.1,55, 0.125,65, 0.15,80, 0.175,105, 0.196,145]],
 [22,[0,0, 0.005,10, 0.01,23, 0.015,38, 0.022,48, 0.03,47, 0.04,45, 0.05,45, 0.075,50, 0.1,62, 0.12,76, 0.14,98, 0.155,125, 0.165,165]],
 [26,[0,0, 0.005,9, 0.01,22, 0.015,37, 0.022,46, 0.03,45, 0.04,43, 0.05,43, 0.075,47, 0.1,55, 0.125,67, 0.145,85, 0.16,100]],
 [27,[0,0, 0.005,10, 0.01,24, 0.015,39, 0.022,50, 0.03,49, 0.04,47, 0.05,46, 0.075,49, 0.1,56, 0.12,65, 0.14,78, 0.15,88]],
 [4,[0,0, 0.005,11, 0.01,27, 0.015,44, 0.022,56, 0.03,55, 0.04,53, 0.05,52, 0.075,55, 0.1,62, 0.12,73, 0.145,92]],
 [5,[0,0, 0.005,11, 0.01,26, 0.015,42, 0.022,54, 0.03,53, 0.04,51, 0.05,50, 0.075,53, 0.1,59, 0.12,69, 0.14,85]],
 [6,[0,0, 0.005,12, 0.01,28, 0.015,46, 0.022,58, 0.03,57, 0.04,54, 0.05,53, 0.075,56, 0.1,64, 0.12,76, 0.148,98]],
 [10,[0,0, 0.005,11, 0.01,27, 0.015,44, 0.022,56, 0.03,55, 0.04,53, 0.05,52, 0.075,55, 0.1,62, 0.12,73, 0.142,93]],
 [18,[0,0, 0.005,12, 0.01,29, 0.015,47, 0.022,60, 0.03,58, 0.04,56, 0.05,55, 0.075,58, 0.1,65, 0.12,77, 0.14,97]],
 [19,[0,0, 0.005,11, 0.01,28, 0.015,45, 0.022,57, 0.03,56, 0.04,53, 0.05,52, 0.075,55, 0.1,62, 0.12,72, 0.145,90]],
 [20,[0,0, 0.005,11, 0.01,27, 0.015,43, 0.022,55, 0.03,54, 0.04,52, 0.05,51, 0.075,54, 0.1,60, 0.12,70, 0.14,88]],
 [24,[0,0, 0.005,12, 0.01,28, 0.015,46, 0.022,58, 0.03,57, 0.04,54, 0.05,53, 0.075,56, 0.1,63, 0.12,75, 0.143,95]],
 [25,[0,0, 0.005,12, 0.01,30, 0.015,49, 0.022,62, 0.03,60, 0.04,57, 0.05,56, 0.075,59, 0.1,67, 0.12,79, 0.14,95, 0.15,112]],
 [23,[0,0, 0.005,12, 0.01,29, 0.015,47, 0.022,60, 0.03,58, 0.04,55, 0.05,54, 0.075,57, 0.1,64, 0.12,75, 0.14,90, 0.155,108]],
 [17,[0,0, 0.005,12, 0.01,29, 0.015,47, 0.022,60, 0.03,58, 0.04,56, 0.05,55, 0.075,57, 0.1,64, 0.12,75, 0.145,92]],
 [16,[0,0, 0.005,12, 0.01,30, 0.015,49, 0.022,62, 0.03,60, 0.04,57, 0.05,56, 0.075,58, 0.1,66, 0.12,77, 0.14,92]],
 [0,[0,0, 0.005,13, 0.01,32, 0.015,52, 0.022,66, 0.03,64, 0.04,61, 0.05,60, 0.075,62, 0.1,70, 0.12,82, 0.14,98]],
 [12,[0,0, 0.005,13, 0.01,33, 0.015,54, 0.022,68, 0.03,66, 0.04,62, 0.05,61, 0.075,64, 0.1,72, 0.12,85, 0.14,102]],
 [15,[0,0, 0.005,14, 0.01,34, 0.015,55, 0.022,70, 0.03,68, 0.04,64, 0.05,63, 0.075,66, 0.1,75, 0.12,88, 0.14,105]],
 [2,[0,0, 0.005,15, 0.01,36, 0.015,58, 0.022,75, 0.03,72, 0.04,69, 0.05,68, 0.075,71, 0.1,80, 0.12,95, 0.14,115]],
 [3,[0,0, 0.005,16, 0.01,40, 0.015,65, 0.022,85, 0.03,82, 0.04,77, 0.05,75, 0.075,78, 0.1,88, 0.12,105, 0.14,130]],
 [9,[0,0, 0.005,17, 0.01,42, 0.015,68, 0.022,88, 0.03,85, 0.04,80, 0.05,78, 0.075,81, 0.1,92, 0.12,112, 0.14,150]],
 [11,[0,0, 0.005,19, 0.01,47, 0.015,77, 0.022,98, 0.03,94, 0.04,87, 0.05,84, 0.075,87, 0.1,101, 0.12,127, 0.135,157, 0.143,185]],
 [1,[0,0, 0.005,18, 0.01,45, 0.015,75, 0.022,97, 0.03,93, 0.04,86, 0.05,83, 0.075,86, 0.1,100, 0.12,125, 0.135,155, 0.147,190]],
 [8,[0,0, 0.005,20, 0.01,50, 0.015,80, 0.022,100, 0.03,96, 0.04,89, 0.05,85, 0.075,88, 0.1,103, 0.12,130, 0.135,160, 0.145,193]]
];

// ---------- panel layout ----------
const f2 = d3.format(".2f"), f1 = d3.format(".1f"), fi = d3.format("d");
const panels = [
 {off:[0,0], m:[5,5.5,25.3,23], xd:[0,6.9], yd:[0,6.5], xt:ticksAx, yt:ticksAy, xf:fi, yf:fi,
  legend:legendA, colors:colorsA, curves:curvesA, leg:{y0:11, dy:8.15, fs:6.4, cols:[{l1:29,l2:40,t:43,from:0,to:12}]},
  tag:"(a)", tagXY:[158,13], note:"Single filament", noteXY:[134,137], xl:"Displacement / mm", xlXY:[105,166], yl:"Force / cN", ylXY:[8,80]},
 {off:[175,0], m:[5,9.8,25.3,28.7], xd:[0,0.222], yd:[0,1900], xt:ticksBx, yt:ticksBy, xf:f2, yf:fi,
  legend:legendA, colors:colorsA, curves:curvesB, leg:{y0:12.7, dy:8.24, fs:6.4, cols:[{l1:31.7,l2:42,t:47,from:0,to:12}]},
  tag:"(b)", tagXY:[161.7,13], note:"Single filament", noteXY:[138,136.7], xl:"Strain", xlXY:[92,166], yl:"Stress / MPa", ylXY:[3.8,72]},
 {off:[350,0], m:[5,8.5,25.3,25], xd:[0,4.3], yd:[0,7.5], xt:ticksCx, yt:ticksCy, xf:fi, yf:fi,
  legend:legendC, colors:colorsC, curves:curvesC, leg:{y0:15, dy:8.27, fs:6.4, cols:[{l1:31.7,l2:43,t:46,from:0,to:12},{l1:101.7,l2:115,t:118.3,from:12,to:15}]},
  tag:"(c)", tagXY:[163,10], note:"Double filaments", noteXY:[136,137], xl:"Displacement / mm", xlXY:[103,166], yl:"Force / cN", ylXY:[7.5,82]},
 {off:[525,0], m:[5.7,8.3,25.3,29.3], xd:[0,0.205], yd:[0,260], xt:ticksDx, yt:ticksDy, xf:f2, yf:fi,
  legend:legendC, colors:colorsC, curves:curvesD, leg:{y0:13.3, dy:8.25, fs:6.4, cols:[{l1:33,l2:45,t:48.3,from:0,to:12},{l1:100,l2:113,t:117,from:12,to:15}]},
  tag:"(d)", tagXY:[160,13], note:"Double filaments", noteXY:[138,136.7], xl:"Strain", xlXY:[100.3,166], yl:"Stress / MPa", ylXY:[5,75]},
 {off:[0,175], m:[5,5.4,25.3,23], xd:[0,3.35], yd:[0,5], xt:ticksEx, yt:ticksEy, xf:fi, yf:fi,
  legend:legendE, colors:colorsE, curves:curvesE, leg:{y0:11.7, dy:8.1, fs:6.4, cols:[{l1:31.7,l2:41.7,t:44,from:0,to:12}]},
  tag:"(e)", tagXY:[156.7,12.3], note:"Single filament", noteXY:[133.5,136], xl:"Displacement / mm", xlXY:[96.7,166], yl:"Force / cN", ylXY:[8.3,83]},
 {off:[175,175], m:[5.7,8,25.3,28.7], xd:[0,0.158], yd:[0,180], xt:ticksFx, yt:ticksFy, xf:f2, yf:fi,
  legend:legendE, colors:colorsE, curves:curvesF, leg:{y0:10, dy:8.1, fs:6.4, cols:[{l1:33,l2:43.3,t:47.3,from:0,to:12}]},
  tag:"(f)", tagXY:[160,12], note:"Single filament", noteXY:[137,136.7], xl:"Strain", xlXY:[95.3,166], yl:"Stress / MPa", ylXY:[5,78]},
 {off:[350,175], m:[5.7,8.7,25.3,25], xd:[0,6.1], yd:[0,12], xt:ticksGx, yt:ticksGy, xf:fi, yf:fi,
  legend:legendG, colors:colorsG, curves:curvesG, leg:{y0:5.7, dy:6.3, fs:4.9, cols:[{l1:27,l2:41.7,t:43.3,from:0,to:15},{l1:96.7,l2:110,t:111.7,from:15,to:30}]},
  tag:"(g)", tagXY:[157.3,14], note:"Double filaments", noteXY:[135,136.7], xl:"Displacement / mm", xlXY:[104,166], yl:"Force / cN", ylXY:[7,100]},
 {off:[525,175], m:[5.7,5,25.3,29.3], xd:[0,0.35], yd:[0,600], xt:ticksHx, yt:ticksHy, xf:f1, yf:fi,
  legend:legendG, colors:colorsG, curves:curvesH, leg:{y0:12.3, dy:6.03, fs:4.9, cols:[{l1:35,l2:46.7,t:50,from:0,to:15},{l1:98.3,l2:111.7,t:115,from:15,to:30}]},
  tag:"(h)", tagXY:[163,12], note:"Double filaments", noteXY:[139,139], xl:"Strain", xlXY:[98.7,166], yl:"Stress / MPa", ylXY:[6,87]}
];

const fig = document.getElementById("fig");
panels.forEach(P => {
  const rows = [];
  P.curves.forEach(([k,p],i) => { for (let j=0;j<p.length;j+=2) rows.push({x:p[j], y:p[j+1], id:i, c:P.colors[k]}); });
  const [mt,mr,mb,ml] = P.m;
  const svg = Plot.plot({
    width:175, height:175, marginTop:mt, marginRight:mr, marginBottom:mb, marginLeft:ml,
    style:{fontFamily:FONT, fontSize:"6.5px", background:"transparent", overflow:"visible", color:"#222"},
    x:{domain:P.xd, ticks:P.xt, tickFormat:P.xf, label:null, tickSize:2.5, tickPadding:1.5},
    y:{domain:P.yd, ticks:P.yt, tickFormat:P.yf, label:null, tickSize:2.5, tickPadding:1.5},
    color:{type:"identity"},
    marks:[
      Plot.line(rows, {x:"x", y:"y", z:"id", stroke:"c", strokeWidth:0.8}),
      Plot.ruleX([P.xd[0]], {stroke:"#222", strokeWidth:0.8}),
      Plot.ruleY([P.yd[0]], {stroke:"#222", strokeWidth:0.8})
    ]
  });
  svg.style.left = P.off[0] + "px";
  svg.style.top = P.off[1] + "px";
  const g = d3.select(svg).append("g").attr("font-family", FONT).attr("fill", "#222").attr("text-anchor", "start");
  P.leg.cols.forEach(col => {
    for (let i = col.from; i < col.to; i++) {
      const y = P.leg.y0 + (i - col.from) * P.leg.dy;
      g.append("line").attr("x1", col.l1).attr("x2", col.l2).attr("y1", y).attr("y2", y)
        .attr("stroke", P.colors[i]).attr("stroke-width", 0.9);
      g.append("text").attr("x", col.t).attr("y", y).attr("dy", "0.35em").attr("text-anchor", "start")
        .attr("font-size", P.leg.fs).text(P.legend[i]);
    }
  });
  g.append("text").attr("x", P.tagXY[0]).attr("y", P.tagXY[1]).attr("dy","0.35em").attr("text-anchor","middle").attr("font-size",6.5).text(P.tag);
  g.append("text").attr("x", P.noteXY[0]).attr("y", P.noteXY[1]).attr("dy","0.35em").attr("text-anchor","middle").attr("font-size",6.5).text(P.note);
  g.append("text").attr("x", P.xlXY[0]).attr("y", P.xlXY[1]).attr("dy","0.35em").attr("text-anchor","middle").attr("font-size",7.6).text(P.xl);
  g.append("text").attr("transform", `translate(${P.ylXY[0]},${P.ylXY[1]}) rotate(-90)`).attr("dy","0.35em").attr("text-anchor","middle").attr("font-size",7.6).text(P.yl);
  fig.appendChild(svg);
});
</script></body></html>
